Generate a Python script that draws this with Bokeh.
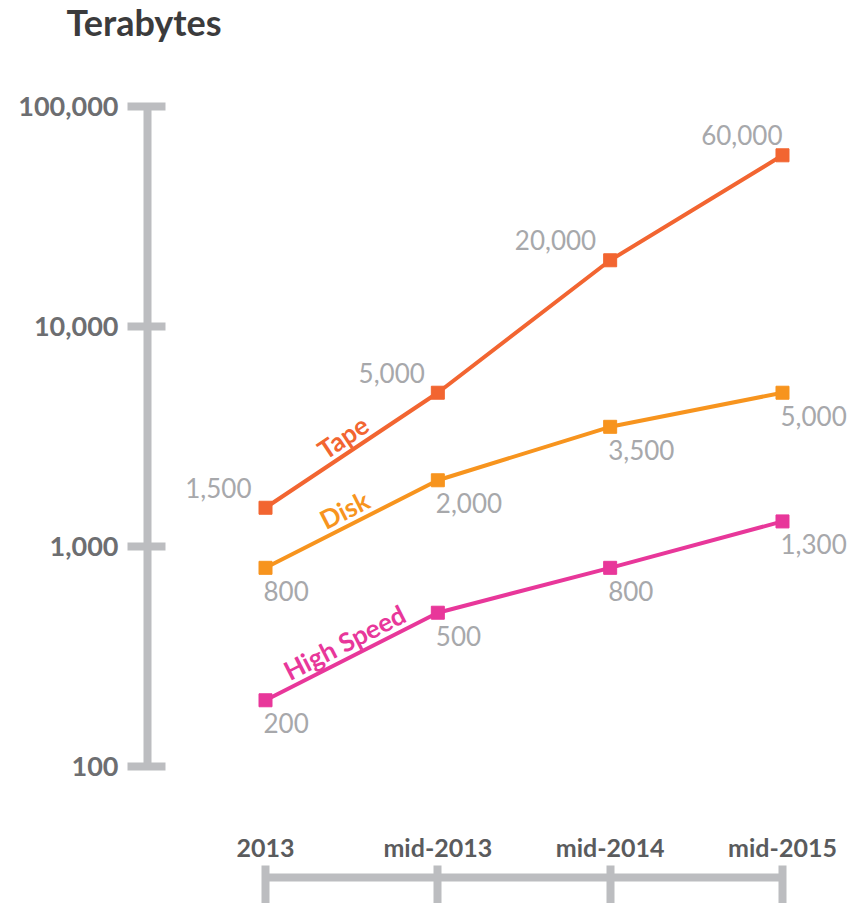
import math
from bokeh.plotting import figure
from bokeh.models import LinearAxis, LogAxis, FixedTicker, NumeralTickFormatter, Range1d, Label
from bokeh.core.properties import value
from bokeh.embed import file_html
from bokeh.resources import INLINE

# ---------------- data ----------------
categories = ["2013", "mid-2013", "mid-2014", "mid-2015"]
tape = [1500, 5000, 20000, 60000]
disk = [800, 2000, 3500, 5000]
high_speed = [200, 500, 800, 1300]
y_ticks = [100, 1000, 10000, 100000]
series_names = ["Tape", "Disk", "High Speed"]
title_text = "Terabytes"

# ---------------- style ----------------
TAPE_C = "#f26531"
DISK_C = "#f7941e"
HS_C = "#e8379a"
AXIS_C = "#bcbdc0"
VAL_C = "#a7a8ab"
TICK_TXT_C = "#6d6e71"
XTXT_C = "#5a5b5d"
TITLE_C = "#3b3b3c"
FONT = "Lato"

# ---------------- layout (pixels, frame = whole canvas) ----------------
W, H = 855, 903
X_FIRST = 265.0     # px of first category
UNIT = 172.33       # px per category step
DEC = 220.0         # px per decade
Y100 = 766.0        # px (from top) of value 100
Y_AXIS_PX = 147.0   # px of y axis line
X_LABEL_PX = 812.0  # px of x label axis anchor
X_LINE_PX = 877.0   # px of x axis line

def px_to_x(px):
    return (px - X_FIRST) / UNIT

def px_to_y(py):
    return 10 ** (2 + (Y100 - py) / DEC)

x_idx = list(range(len(categories)))

p = figure(width=W, height=H, output_backend="svg", toolbar_location=None,
           title=None, x_axis_location=None, y_axis_location=None,
           x_range=Range1d(px_to_x(0), px_to_x(W)),
           y_range=Range1d(px_to_y(H), px_to_y(0)),
           y_axis_type="log", min_border_left=0, min_border_top=0,
           min_border_bottom=0, min_border_right=0)
p.outline_line_color = None
p.xgrid.visible = False
p.ygrid.visible = False
p.background_fill_color = "white"
p.border_fill_color = "white"

# title
p.add_layout(Label(x=px_to_x(66), y=px_to_y(21), text=title_text,
                   text_font=FONT, text_font_size="36px", text_font_style="bold",
                   text_color=TITLE_C, text_align="left", text_baseline="middle"))

# y axis
ya = LogAxis(fixed_location=px_to_x(Y_AXIS_PX),
             ticker=FixedTicker(ticks=y_ticks),
             formatter=NumeralTickFormatter(format="0,0"),
             bounds=(y_ticks[0], y_ticks[-1]),
             axis_line_width=8, axis_line_color=AXIS_C,
             major_tick_line_width=8, major_tick_line_color=AXIS_C,
             major_tick_in=18, major_tick_out=20,
             minor_tick_line_color=None, major_label_standoff=9,
             major_label_text_font=FONT, major_label_text_font_style="bold",
             major_label_text_font_size="27px", major_label_text_color=TICK_TXT_C)
p.add_layout(ya, "left")

# x axis: labels
xa = LinearAxis(fixed_location=px_to_y(X_LABEL_PX),
                ticker=FixedTicker(ticks=x_idx),
                major_label_overrides={i: c for i, c in zip(x_idx, categories)},
                axis_line_color=None, major_tick_line_color=None,
                minor_tick_line_color=None, major_tick_in=0, major_tick_out=0,
                major_label_standoff=19, major_label_text_font=FONT,
                major_label_text_font_style="bold", major_label_text_font_size="25px",
                major_label_text_color=XTXT_C)
p.add_layout(xa, "below")

# x axis: line + ticks
xl = LinearAxis(fixed_location=px_to_y(X_LINE_PX),
                ticker=FixedTicker(ticks=x_idx), bounds=(x_idx[0], x_idx[-1]),
                axis_line_width=8, axis_line_color=AXIS_C,
                major_tick_line_width=8, major_tick_line_color=AXIS_C,
                major_tick_in=12, major_tick_out=40,
                minor_tick_line_color=None, major_label_text_font_size="0px",
                major_label_text_color=None, major_label_standoff=0)
p.add_layout(xl, "below")

series = [(tape, TAPE_C), (disk, DISK_C), (high_speed, HS_C)]

for vals, col in series:
    p.line(x_idx, vals, line_width=4, line_color=col)
    p.scatter(x_idx, vals, marker="square", size=13, fill_color=col, line_color=col)

# value labels
tape_dx = [-14, -13, -14, 0]
p.text(x=x_idx, y=tape, text=[f"{v:,}" for v in tape], text_font=value(FONT),
       text_font_size="26px", text_color=VAL_C, text_align="right",
       text_baseline="middle", x_offset=tape_dx, y_offset=-20)
for vals in (disk, high_speed):
    p.text(x=x_idx, y=vals, text=[f"{v:,}" for v in vals], text_font=value(FONT),
           text_font_size="26px", text_color=VAL_C, text_align="left",
           text_baseline="middle", x_offset=-2, y_offset=23)

# series name labels along first segment
for (vals, col), name in zip(series, series_names):
    ang = math.atan2(DEC * math.log10(vals[1] / vals[0]), UNIT)
    p.text(x=[(x_idx[0] + x_idx[1]) / 2], y=[math.sqrt(vals[0] * vals[1])],
           text=[name], angle=ang, text_font=value(FONT), text_font_size="26px",
           text_font_style="bold", text_color=col, text_align="center",
           text_baseline="bottom", y_offset=0)

open("out.html", "w").write(file_html(p, INLINE))
